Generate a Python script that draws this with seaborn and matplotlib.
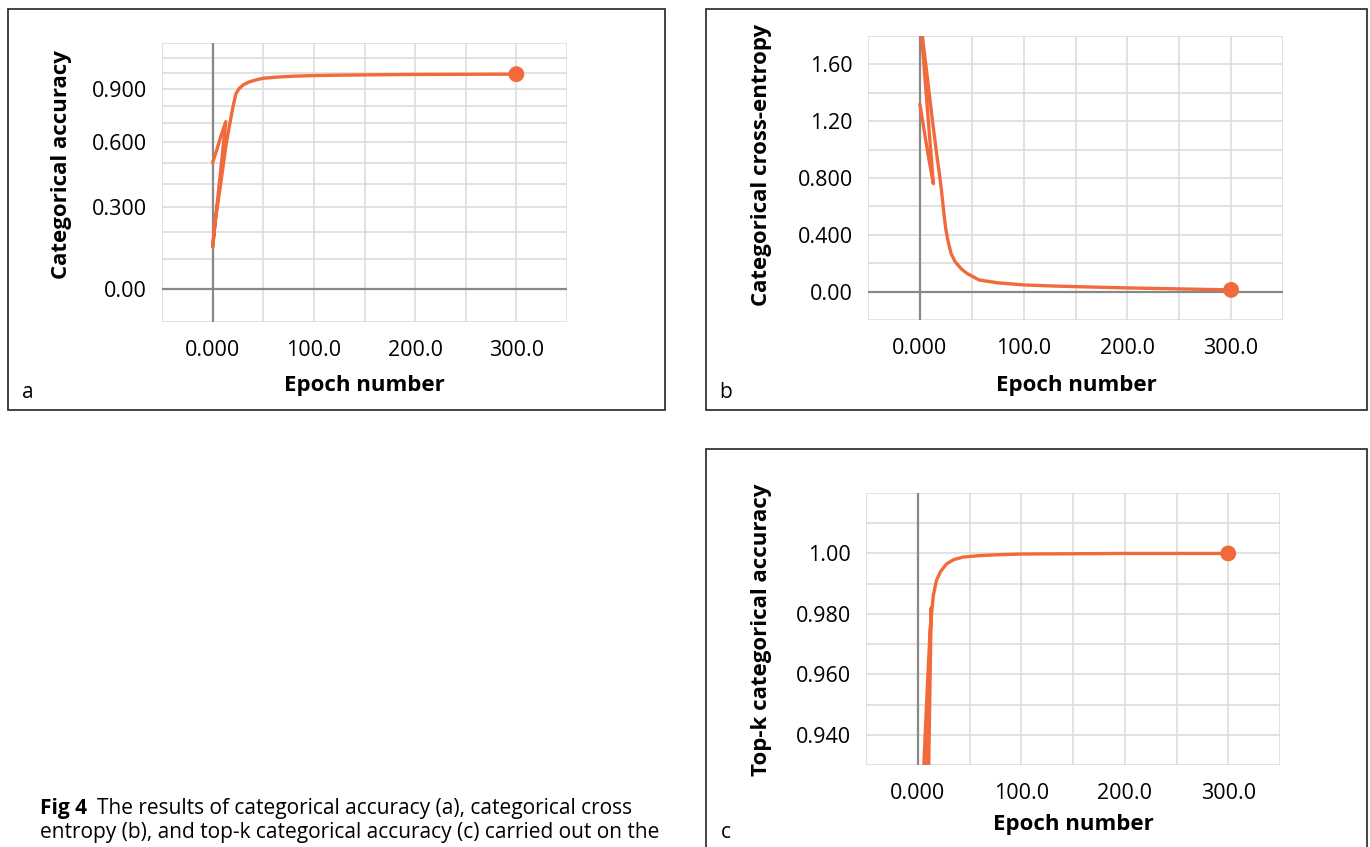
import numpy as np
import matplotlib
matplotlib.use("Agg")
import matplotlib.pyplot as plt
import seaborn as sns
from matplotlib.patches import Rectangle

acc_epoch = [0, 4, 8, 13, 0, 3, 7, 10, 13, 17, 20, 23, 26, 30, 36, 43, 50, 65, 80, 100, 130, 160, 200, 250, 300]
acc_value = [0.50, 0.56, 0.63, 0.71, 0.144, 0.26, 0.37, 0.47, 0.58, 0.70, 0.79, 0.87, 0.90, 0.923, 0.942, 0.955, 0.965, 0.973, 0.978, 0.982, 0.985, 0.987, 0.989, 0.99, 0.991]

loss_epoch = [0, 4, 8, 13, 0, 4, 8, 12, 16, 19, 21, 23, 25, 27, 30, 34, 40, 45, 57, 75, 100, 130, 160, 200, 250, 300]
loss_value = [1.32, 1.14, 0.96, 0.76, 1.95, 1.70, 1.46, 1.21, 0.98, 0.82, 0.70, 0.56, 0.44, 0.36, 0.27, 0.21, 0.16, 0.13, 0.082, 0.062, 0.047, 0.039, 0.033, 0.026, 0.019, 0.012]

topk_epoch = [0, 6, 10, 13, 0, 3, 6, 9, 12, 15, 18, 22, 28, 35, 44, 60, 80, 100, 150, 200, 250, 300]
topk_value = [0.80, 0.90, 0.95, 0.982, 0.70, 0.85, 0.931, 0.954, 0.975, 0.986, 0.991, 0.994, 0.9966, 0.998, 0.9988, 0.9993, 0.9996, 0.9998, 0.9999, 1.0, 1.0, 1.0]

x_ticks = [-50, 0, 50, 100, 150, 200, 250, 300, 350]
x_tick_labels = ["", "0.000", "", "100.0", "", "200.0", "", "300.0", ""]

acc_yticks = [-0.1, 0.0, 0.1, 0.2, 0.3, 0.4, 0.5, 0.6, 0.7, 0.8, 0.9, 1.0, 1.1, 1.2]
acc_ytick_labels = ["", "0.00", "", "", "0.300", "", "", "0.600", "", "", "0.900", "", "", ""]

loss_yticks = [-0.2, 0.0, 0.2, 0.4, 0.6, 0.8, 1.0, 1.2, 1.4, 1.6, 1.8]
loss_ytick_labels = ["", "0.00", "", "0.400", "", "0.800", "", "1.20", "", "1.60", ""]

topk_yticks = [0.93, 0.94, 0.95, 0.96, 0.97, 0.98, 0.99, 1.00, 1.01, 1.02]
topk_ytick_labels = ["", "0.940", "", "0.960", "", "0.980", "", "1.00", "", ""]

y_titles = ["Categorical accuracy", "Categorical cross-entropy", "Top-k categorical accuracy"]
panel_letters = ["a", "b", "c"]
x_title = "Epoch number"
caption_bold = "Fig 4"
caption_lines = ["The results of categorical accuracy (a), categorical cross",
                 "entropy (b), and top-k categorical accuracy (c) carried out on the",
                 "test dataset"]

sns.set_theme(style="white")
plt.rcParams["font.family"] = ["Open Sans", "DejaVu Sans"]
plt.rcParams["text.color"] = "black"

W, H = 1370, 847
fig = plt.figure(figsize=(W / 100, H / 100), dpi=100)
fig.patch.set_facecolor("white")

line_color = "#f26a3c"


def px_rect(x0, y0, x1, y1):
    # pixel box (top-left origin) -> figure fraction [left, bottom, width, height]
    return [x0 / W, 1 - y1 / H, (x1 - x0) / W, (y1 - y0) / H]


def draw_panel(rect, epochs, values, yticks, ylabels, ylim, log1p=False):
    ax = fig.add_axes(px_rect(*rect))
    if log1p:
        ax.set_yscale("function", functions=(np.log1p, np.expm1))
    ax.set_xlim(-50, 350)
    ax.set_ylim(*ylim)
    ax.set_xticks(x_ticks)
    ax.set_xticklabels(x_tick_labels)
    ax.set_yticks(yticks)
    ax.set_yticklabels(ylabels)
    ax.minorticks_off()
    ax.grid(True, color="#dadada", lw=1.1)
    for s in ax.spines.values():
        s.set_visible(False)
    ax.tick_params(axis="both", length=5, width=1, color="#cccccc", labelsize=15.5,
                   labelcolor="black", pad=6)
    ax.tick_params(axis="x", pad=8)
    ax.axvline(0, color="#888888", lw=1.6, zorder=1)
    if ylim[0] < 0:
        ax.axhline(0, color="#888888", lw=1.6, zorder=1)
    sns.lineplot(x=epochs, y=values, sort=False, estimator=None, color=line_color,
                 lw=2.4, ax=ax, zorder=3)
    sns.scatterplot(x=[epochs[-1]], y=[values[-1]], color=line_color, s=130,
                    edgecolor="none", ax=ax, zorder=4)
    ax.set_xlabel("")
    ax.set_ylabel("")
    return ax


ax_a = draw_panel((162, 43, 567, 322), acc_epoch, acc_value, acc_yticks, acc_ytick_labels,
                  (-0.1, 1.2), log1p=True)
ax_b = draw_panel((868, 36, 1283, 320), loss_epoch, loss_value, loss_yticks, loss_ytick_labels,
                  (-0.2, 1.8))
ax_c = draw_panel((866, 493, 1280, 765), topk_epoch, topk_value, topk_yticks, topk_ytick_labels,
                  (0.93, 1.02))

# frames round each panel
for x0, y0, x1, y1 in [(8, 9, 665, 410), (706, 9, 1367, 410), (706, 449, 1367, 860)]:
    fig.add_artist(Rectangle((x0 / W, 1 - y1 / H), (x1 - x0) / W, (y1 - y0) / H,
                             transform=fig.transFigure, fill=False, edgecolor="#222222",
                             lw=1.2, clip_on=False))

# axis titles, panel letters
fig.text(62 / W, 1 - 165 / H, y_titles[0], rotation=90, ha="center", va="center",
         fontsize=16, fontweight="bold")
fig.text(762 / W, 1 - 165 / H, y_titles[1], rotation=90, ha="center", va="center",
         fontsize=16, fontweight="bold")
fig.text(762 / W, 1 - 630 / H, y_titles[2], rotation=90, ha="center", va="center",
         fontsize=16, fontweight="bold")
fig.text(364 / W, 1 - 385 / H, x_title, ha="center", va="center", fontsize=16, fontweight="bold")
fig.text(1076 / W, 1 - 385 / H, x_title, ha="center", va="center", fontsize=16, fontweight="bold")
fig.text(1073 / W, 1 - 824 / H, x_title, ha="center", va="center", fontsize=16, fontweight="bold")
fig.text(28 / W, 1 - 392 / H, panel_letters[0], ha="center", va="center", fontsize=15)
fig.text(726 / W, 1 - 392 / H, panel_letters[1], ha="center", va="center", fontsize=15)
fig.text(726 / W, 1 - 832 / H, panel_letters[2], ha="center", va="center", fontsize=15)

# caption (third line runs off the bottom edge as in the source page)
fig.text(40 / W, 1 - 808 / H, caption_bold, ha="left", va="center", fontsize=15, fontweight="bold")
fig.text(97 / W, 1 - 808 / H, caption_lines[0], ha="left", va="center", fontsize=15)
fig.text(40 / W, 1 - 832 / H, caption_lines[1], ha="left", va="center", fontsize=15)
fig.text(40 / W, 1 - 857 / H, caption_lines[2], ha="left", va="center", fontsize=15)

plt.savefig("out.png", dpi=100, facecolor="white")
